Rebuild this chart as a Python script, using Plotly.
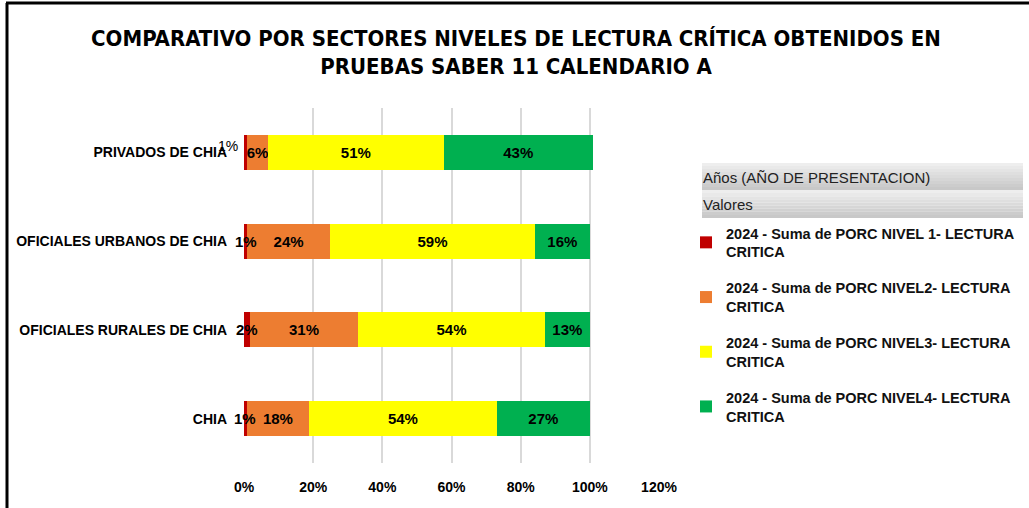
import plotly.graph_objects as go

# ---------------- data ----------------
categories = ["CHIA", "OFICIALES RURALES DE CHIA", "OFICIALES URBANOS DE CHIA", "PRIVADOS DE CHIA"]
nivel1 = [0.008, 0.017, 0.009, 0.008]
nivel2 = [0.180, 0.313, 0.240, 0.062]
nivel3 = [0.543, 0.540, 0.592, 0.507]
nivel4 = [0.269, 0.130, 0.159, 0.432]

series_names = [
    "2024 - Suma de PORC NIVEL 1- LECTURA<br>CRITICA",
    "2024 - Suma de PORC NIVEL2- LECTURA<br>CRITICA",
    "2024 - Suma de PORC NIVEL3- LECTURA<br>CRITICA",
    "2024 - Suma de PORC NIVEL4- LECTURA<br>CRITICA",
]
series_colors = ["#C00000", "#ED7D31", "#FFFF00", "#00B050"]
x_ticks = [0, 0.2, 0.4, 0.6, 0.8, 1.0, 1.2]

title_text = ("COMPARATIVO POR SECTORES NIVELES DE LECTURA CRÍTICA OBTENIDOS EN"
              "<br>PRUEBAS SABER 11 CALENDARIO A")

# ---------------- layout geometry ----------------
W, H = 1029, 508
L, R, T, B = 244, 370, 108, 45
PW, PH = W - L - R, H - T - B


def px_x(x):
    return (x - L) / PW


def px_y(y):
    return (H - B - y) / PH


BOLD = "Liberation Sans, Arial, sans-serif"

fig = go.Figure()
all_values = [nivel1, nivel2, nivel3, nivel4]
for i, (vals, name, col) in enumerate(zip(all_values, series_names, series_colors)):
    is_tiny = (i == 0)
    fig.add_trace(go.Bar(
        y=categories, x=vals, name=name, orientation="h",
        marker=dict(color=col, line=dict(width=0)),
        text=None if is_tiny else [f"{v:.0%}" for v in vals],
        textposition="none" if is_tiny else "inside",
        insidetextanchor="middle", textangle=0,
        textfont=dict(family=BOLD, size=15, color="black", weight="bold"),
        legendgroup=f"g{i}",
    ))

annotations = []
# labels of the thin level-1 segments (centered on the segment, the top one displaced)
for j, (cat, v) in enumerate(zip(categories, nivel1)):
    top = (j == len(categories) - 1)
    annotations.append(dict(
        x=v / 2, y=cat, xref="x", yref="y", text=f"{v:.0%}", showarrow=False,
        xshift=-17 if top else 0, yshift=6 if top else 0,
        font=dict(family=BOLD, size=15 if not top else 14, color="black",
                  weight="normal" if top else "bold")))

annotations += [
    dict(x=px_x(701), y=px_y(177), xref="paper", yref="paper", xanchor="left", yanchor="middle",
         text="Años (AÑO DE PRESENTACION)", showarrow=False,
         font=dict(family="Liberation Sans, Arial, sans-serif", size=15, color="#222222")),
    dict(x=px_x(701), y=px_y(204), xref="paper", yref="paper", xanchor="left", yanchor="middle",
         text="Valores", showarrow=False,
         font=dict(family="Liberation Sans, Arial, sans-serif", size=15, color="#222222")),
]

shapes = []
# gradient header boxes
for (y0, y1) in [(163, 190), (190, 218)]:
    n = 9
    for k in range(n):
        a = y0 + (y1 - y0) * k / n
        b = y0 + (y1 - y0) * (k + 1) / n
        g = int(238 - (238 - 200) * k / (n - 1))
        shapes.append(dict(type="rect", xref="paper", yref="paper",
                           x0=px_x(702), x1=px_x(1023), y0=px_y(b), y1=px_y(a),
                           fillcolor=f"rgb({g},{g},{g})", line=dict(width=0), layer="below"))
# frame lines (top and left)
shapes.append(dict(type="line", xref="paper", yref="paper",
                   x0=px_x(6), x1=px_x(1029), y0=px_y(3), y1=px_y(3),
                   line=dict(color="black", width=3)))
shapes.append(dict(type="line", xref="paper", yref="paper",
                   x0=px_x(7), x1=px_x(7), y0=px_y(3), y1=px_y(508),
                   line=dict(color="black", width=3)))

fig.update_layout(
    width=W, height=H,
    margin=dict(l=L, r=R, t=T, b=B, autoexpand=False),
    paper_bgcolor="white", plot_bgcolor="white",
    barmode="stack", bargap=0.606,
    title=dict(text=title_text, x=(516 - L) / PW, xref="paper", xanchor="center",
               y=1 - 45.5 / H, yref="container", yanchor="middle",
               font=dict(family="Liberation Sans Narrow, DejaVu Sans Condensed, Arial Narrow, sans-serif",
                         size=22, color="black", weight="bold")),
    xaxis=dict(range=[0, 1.2], tickvals=x_ticks, tickformat=".0%",
               showgrid=True, gridcolor="#d9d9d9", gridwidth=1.5, zeroline=False,
               showline=False, ticks="", ticklabelstandoff=14, automargin=False,
               tickfont=dict(family=BOLD, size=14, color="black", weight="bold"),
               fixedrange=True),
    yaxis=dict(categoryorder="array", categoryarray=categories, showgrid=False,
               showline=False, ticks="", ticklabelstandoff=16, automargin=False,
               tickfont=dict(family=BOLD, size=14, color="black", weight="bold"),
               fixedrange=True),
    legend=dict(x=px_x(686), y=px_y(217), xanchor="left", yanchor="top",
                traceorder="grouped", tracegroupgap=14, bgcolor="rgba(0,0,0,0)",
                font=dict(family=BOLD, size=14.5, color="#111111", weight="bold"),
                itemclick=False, itemdoubleclick=False),
    uniformtext=dict(minsize=15, mode="show"),
    annotations=annotations, shapes=shapes,
)

fig.write_html("out.html", config={"displayModeBar": False},
               post_script="document.body.style.margin='0px';document.body.style.overflow='hidden';")
